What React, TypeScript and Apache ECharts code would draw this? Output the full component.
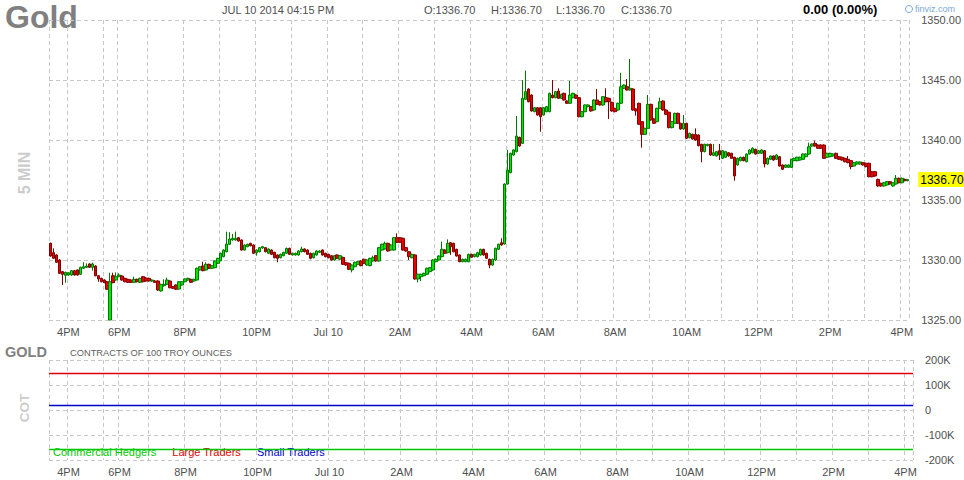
import React, { useEffect, useRef } from "react";
import * as echarts from "echarts";

// ---- DATA ----
// Session layout of 5-minute bars (start time, number of bars)
const sessionStarts = ["15:30", "18:10", "19:00"];
const sessionCounts = [23, 10, 255];

// candles: [open, close, low, high]
const candles: number[][] = [
  [1331.39, 1330.33, 1330.28, 1331.45], [1330.61, 1330.14, 1330.08, 1330.97], [1330.42, 1329.81, 1329.75, 1330.47], [1330.00, 1328.89, 1328.83, 1330.06],
  [1329.03, 1328.81, 1327.92, 1329.08], [1328.72, 1328.97, 1328.11, 1329.03], [1328.75, 1328.94, 1328.69, 1329.00], [1328.75, 1329.11, 1328.69, 1329.17],
  [1329.11, 1328.75, 1328.69, 1329.17], [1329.17, 1328.75, 1328.69, 1329.22], [1328.81, 1329.39, 1328.75, 1329.44], [1329.31, 1329.44, 1329.25, 1329.81],
  [1329.39, 1329.50, 1329.33, 1329.72], [1329.67, 1329.39, 1329.33, 1329.72], [1329.39, 1329.67, 1329.11, 1329.78], [1329.50, 1328.69, 1328.64, 1329.56],
  [1328.69, 1328.42, 1328.19, 1328.75], [1328.47, 1328.19, 1328.14, 1328.53], [1328.33, 1328.11, 1328.06, 1328.39], [1328.19, 1327.56, 1327.50, 1328.25],
  [1325.00, 1328.19, 1325.00, 1328.94], [1328.69, 1328.11, 1328.06, 1328.94], [1328.33, 1328.61, 1328.28, 1328.97], [1328.61, 1328.75, 1328.56, 1328.89],
  [1328.67, 1328.33, 1328.28, 1328.72], [1328.47, 1328.19, 1328.14, 1328.53], [1328.39, 1328.14, 1328.08, 1328.44], [1328.33, 1328.14, 1328.08, 1328.39],
  [1328.14, 1328.39, 1328.08, 1328.61], [1328.39, 1328.19, 1328.14, 1328.44], [1328.14, 1328.47, 1328.08, 1328.53], [1328.61, 1328.19, 1328.14, 1328.67],
  [1328.50, 1328.25, 1328.19, 1328.56], [1328.47, 1328.25, 1328.19, 1328.53], [1328.25, 1328.33, 1328.19, 1328.39], [1328.25, 1328.14, 1328.08, 1328.31],
  [1328.25, 1327.50, 1327.44, 1328.31], [1327.42, 1327.97, 1327.36, 1328.03], [1327.86, 1327.97, 1327.78, 1328.39], [1327.97, 1328.33, 1327.92, 1328.53],
  [1328.25, 1327.69, 1327.64, 1328.31], [1327.78, 1327.64, 1327.58, 1327.83], [1327.92, 1327.56, 1327.50, 1327.97], [1327.58, 1328.19, 1327.53, 1328.25],
  [1327.92, 1328.19, 1327.86, 1328.25], [1328.19, 1328.42, 1328.14, 1328.47], [1328.33, 1328.47, 1328.28, 1328.53], [1328.39, 1328.14, 1328.08, 1328.44],
  [1328.25, 1328.39, 1328.19, 1328.44], [1328.33, 1329.31, 1328.28, 1329.36], [1329.17, 1329.44, 1329.11, 1329.50], [1329.50, 1329.11, 1329.06, 1329.86],
  [1329.17, 1329.64, 1329.11, 1329.81], [1329.64, 1329.31, 1329.25, 1329.69], [1329.31, 1329.53, 1329.25, 1329.58], [1329.36, 1329.92, 1329.31, 1329.97],
  [1329.72, 1330.14, 1329.67, 1330.19], [1329.94, 1330.56, 1329.89, 1330.61], [1330.28, 1330.83, 1330.22, 1330.89], [1330.69, 1331.33, 1330.64, 1332.36],
  [1331.31, 1331.75, 1331.25, 1332.31], [1331.67, 1331.81, 1331.61, 1332.17], [1331.67, 1331.81, 1331.61, 1332.36], [1331.86, 1331.58, 1331.53, 1331.92],
  [1331.67, 1330.83, 1330.78, 1331.72], [1330.83, 1331.25, 1330.78, 1331.31], [1331.11, 1331.31, 1331.06, 1331.36], [1331.39, 1331.19, 1331.14, 1331.44],
  [1331.25, 1330.56, 1330.50, 1331.31], [1330.61, 1330.83, 1330.36, 1330.89], [1330.69, 1331.03, 1330.64, 1331.08], [1331.00, 1331.11, 1330.94, 1331.17],
  [1331.03, 1330.69, 1330.64, 1331.08], [1330.56, 1330.92, 1330.50, 1330.97], [1330.83, 1330.47, 1330.42, 1330.89], [1330.64, 1330.19, 1330.14, 1330.69],
  [1330.42, 1330.14, 1329.81, 1330.47], [1330.19, 1330.47, 1330.14, 1330.53], [1330.36, 1330.64, 1330.31, 1330.69], [1330.56, 1330.97, 1330.50, 1331.03],
  [1330.97, 1330.47, 1330.42, 1331.03], [1330.42, 1330.56, 1330.36, 1330.61], [1330.42, 1330.56, 1330.36, 1330.61], [1330.42, 1330.75, 1330.36, 1330.81],
  [1330.69, 1330.92, 1330.64, 1331.11], [1330.92, 1330.69, 1330.64, 1330.97], [1330.83, 1330.47, 1330.42, 1330.89], [1330.56, 1330.14, 1330.06, 1330.61],
  [1330.19, 1330.56, 1330.14, 1330.61], [1330.42, 1330.75, 1330.36, 1330.81], [1330.64, 1330.75, 1330.58, 1330.81], [1330.83, 1330.42, 1330.36, 1330.89],
  [1330.56, 1330.28, 1330.22, 1330.61], [1330.47, 1330.19, 1330.14, 1330.53], [1330.36, 1330.00, 1329.94, 1330.42], [1330.00, 1330.36, 1329.94, 1330.42],
  [1330.42, 1330.14, 1330.08, 1330.47], [1330.06, 1330.36, 1330.00, 1330.42], [1330.22, 1329.64, 1329.58, 1330.28], [1329.78, 1329.58, 1329.53, 1329.83],
  [1329.72, 1329.22, 1329.17, 1329.78], [1329.17, 1329.58, 1328.97, 1329.64], [1329.44, 1329.81, 1329.39, 1329.86], [1329.64, 1329.86, 1329.58, 1329.92],
  [1329.92, 1329.53, 1329.47, 1329.97], [1330.06, 1329.72, 1329.67, 1330.11], [1329.58, 1330.00, 1329.53, 1330.06], [1329.53, 1330.14, 1329.47, 1330.19],
  [1329.92, 1330.19, 1329.86, 1330.36], [1330.36, 1329.92, 1329.86, 1330.42], [1329.92, 1331.03, 1329.86, 1331.08], [1330.83, 1331.31, 1330.78, 1331.36],
  [1330.92, 1331.39, 1330.86, 1331.53], [1331.39, 1330.75, 1330.69, 1331.44], [1330.83, 1331.25, 1330.78, 1331.31], [1330.83, 1331.86, 1330.78, 1331.92],
  [1331.86, 1331.47, 1331.42, 1332.22], [1331.86, 1331.47, 1331.42, 1331.92], [1331.81, 1330.83, 1330.78, 1331.86], [1331.03, 1330.75, 1330.69, 1331.08],
  [1330.69, 1330.28, 1330.00, 1330.75], [1330.19, 1330.47, 1330.14, 1330.53], [1330.42, 1328.42, 1328.36, 1330.47], [1328.42, 1328.81, 1328.14, 1328.86],
  [1328.61, 1328.81, 1328.25, 1328.86], [1328.69, 1328.89, 1328.64, 1328.94], [1328.81, 1329.31, 1328.75, 1329.36], [1329.03, 1329.36, 1328.97, 1329.42],
  [1329.17, 1330.00, 1329.11, 1330.06], [1329.86, 1330.06, 1329.81, 1330.11], [1330.00, 1330.33, 1329.94, 1330.39], [1330.28, 1330.89, 1330.22, 1331.53],
  [1330.83, 1330.56, 1330.50, 1330.89], [1330.61, 1331.39, 1330.56, 1331.72], [1331.44, 1331.11, 1330.42, 1331.50], [1331.39, 1330.69, 1330.64, 1331.44],
  [1330.89, 1330.33, 1330.28, 1330.94], [1330.42, 1329.86, 1329.81, 1330.47], [1329.86, 1330.06, 1329.81, 1330.11], [1329.86, 1330.06, 1329.81, 1330.11],
  [1329.86, 1330.47, 1329.81, 1330.53], [1330.47, 1330.22, 1330.17, 1330.53], [1330.28, 1330.47, 1330.22, 1330.53], [1330.28, 1330.61, 1330.22, 1330.69],
  [1330.42, 1330.89, 1330.36, 1330.94], [1330.89, 1330.42, 1330.36, 1330.94], [1330.56, 1330.14, 1330.08, 1330.61], [1330.06, 1329.58, 1329.31, 1330.11],
  [1329.58, 1330.06, 1329.53, 1330.11], [1330.00, 1330.97, 1329.94, 1331.03], [1330.89, 1331.31, 1330.83, 1331.36], [1331.44, 1331.25, 1331.19, 1331.81],
  [1331.33, 1336.33, 1331.28, 1336.39], [1336.33, 1337.50, 1336.28, 1339.17], [1337.28, 1338.89, 1337.22, 1338.94], [1338.75, 1339.17, 1338.69, 1339.22],
  [1339.03, 1340.33, 1338.97, 1342.00], [1340.22, 1339.50, 1339.44, 1340.28], [1339.72, 1343.47, 1339.67, 1345.00], [1343.39, 1344.03, 1343.33, 1345.78],
  [1344.25, 1343.19, 1343.14, 1344.31], [1343.75, 1342.42, 1342.36, 1343.81], [1342.36, 1342.69, 1342.31, 1342.75], [1342.69, 1342.08, 1342.03, 1342.75],
  [1342.69, 1341.94, 1340.69, 1342.75], [1342.08, 1342.69, 1342.03, 1342.75], [1342.36, 1342.78, 1342.31, 1342.83], [1342.36, 1343.89, 1342.31, 1343.94],
  [1343.75, 1343.53, 1343.47, 1345.00], [1343.53, 1344.03, 1343.47, 1344.08], [1344.08, 1343.47, 1343.42, 1344.31], [1343.47, 1343.81, 1343.42, 1343.86],
  [1343.89, 1343.33, 1343.28, 1343.94], [1343.25, 1343.06, 1343.00, 1343.31], [1343.06, 1343.75, 1343.00, 1344.92], [1343.53, 1343.89, 1343.47, 1343.94],
  [1343.75, 1343.47, 1343.42, 1343.81], [1343.53, 1341.94, 1341.89, 1343.58], [1341.94, 1342.36, 1341.89, 1342.42], [1342.36, 1342.92, 1342.31, 1342.97],
  [1342.78, 1342.92, 1342.72, 1342.97], [1342.78, 1342.42, 1342.36, 1342.83], [1342.50, 1343.33, 1342.44, 1343.39], [1343.33, 1342.97, 1342.92, 1344.25],
  [1343.19, 1342.92, 1342.86, 1343.25], [1342.92, 1343.61, 1342.86, 1343.67], [1343.53, 1343.19, 1343.14, 1344.31], [1343.47, 1343.19, 1341.75, 1343.53],
  [1343.14, 1342.42, 1342.36, 1343.19], [1342.64, 1342.36, 1342.31, 1342.69], [1342.50, 1343.06, 1342.44, 1343.11], [1343.06, 1344.44, 1343.00, 1345.60],
  [1344.31, 1344.58, 1344.25, 1344.64], [1344.44, 1344.17, 1344.11, 1345.08], [1344.17, 1344.31, 1344.11, 1346.75], [1344.25, 1342.50, 1342.44, 1344.31],
  [1342.58, 1342.42, 1342.03, 1342.64], [1343.06, 1341.31, 1341.25, 1343.11], [1341.53, 1340.47, 1339.36, 1341.58], [1340.47, 1340.97, 1340.42, 1341.03],
  [1340.97, 1342.97, 1340.92, 1343.75], [1342.97, 1341.67, 1341.61, 1343.03], [1341.75, 1341.39, 1341.33, 1341.81], [1341.53, 1342.64, 1341.47, 1342.69],
  [1342.64, 1343.19, 1342.58, 1343.53], [1343.25, 1342.50, 1342.44, 1343.31], [1342.50, 1342.14, 1342.08, 1342.56], [1342.31, 1341.03, 1340.97, 1342.36],
  [1341.03, 1341.53, 1340.97, 1341.58], [1341.39, 1342.22, 1341.33, 1342.28], [1342.22, 1341.39, 1341.33, 1342.28], [1341.39, 1340.92, 1340.86, 1341.44],
  [1340.92, 1341.39, 1340.86, 1342.08], [1341.39, 1340.14, 1340.08, 1341.44], [1340.19, 1340.56, 1340.14, 1340.61], [1340.47, 1340.08, 1340.03, 1340.53],
  [1340.47, 1340.00, 1339.94, 1340.97], [1340.42, 1339.53, 1339.47, 1340.47], [1339.64, 1339.03, 1338.14, 1339.69], [1339.03, 1339.64, 1338.97, 1339.69],
  [1339.53, 1339.64, 1339.47, 1339.69], [1339.64, 1338.75, 1338.69, 1339.69], [1338.72, 1338.94, 1338.67, 1339.67], [1338.67, 1339.03, 1338.61, 1339.08],
  [1339.11, 1338.75, 1338.33, 1339.67], [1338.47, 1339.11, 1338.42, 1339.17], [1338.56, 1339.03, 1338.50, 1339.08], [1338.94, 1338.67, 1338.61, 1339.00],
  [1338.89, 1338.47, 1338.42, 1338.94], [1338.56, 1337.00, 1336.61, 1338.61], [1337.92, 1338.47, 1337.86, 1338.53], [1338.28, 1338.56, 1338.22, 1338.61],
  [1338.56, 1338.28, 1338.22, 1338.61], [1338.19, 1338.83, 1338.14, 1338.89], [1338.83, 1339.17, 1338.78, 1339.22], [1338.94, 1339.31, 1338.89, 1339.39],
  [1339.22, 1338.83, 1338.78, 1339.28], [1338.89, 1339.11, 1338.83, 1339.17], [1338.89, 1339.17, 1338.83, 1339.22], [1339.11, 1338.00, 1337.72, 1339.17],
  [1338.00, 1338.47, 1337.94, 1338.53], [1338.39, 1338.67, 1338.33, 1338.72], [1338.67, 1338.33, 1338.28, 1338.72], [1338.39, 1338.75, 1338.33, 1338.81],
  [1338.61, 1337.83, 1337.78, 1338.67], [1337.92, 1337.56, 1337.50, 1337.97], [1337.72, 1337.92, 1337.67, 1337.97], [1337.72, 1337.92, 1337.67, 1337.97],
  [1337.72, 1338.39, 1337.67, 1338.44], [1338.28, 1338.47, 1338.22, 1338.53], [1338.28, 1338.56, 1338.22, 1338.61], [1338.33, 1338.56, 1338.28, 1338.61],
  [1338.39, 1338.83, 1338.33, 1338.89], [1338.61, 1338.83, 1338.56, 1338.89], [1338.83, 1339.44, 1338.78, 1339.78], [1339.50, 1339.67, 1339.44, 1339.72],
  [1339.72, 1339.50, 1339.44, 1339.94], [1339.58, 1339.31, 1339.25, 1339.64], [1339.58, 1339.31, 1339.25, 1339.64], [1339.58, 1338.47, 1338.42, 1339.64],
  [1338.56, 1338.89, 1338.50, 1338.94], [1338.61, 1338.89, 1338.56, 1338.94], [1338.67, 1338.83, 1338.61, 1338.89], [1338.89, 1338.47, 1338.42, 1338.94],
  [1338.61, 1338.39, 1338.33, 1338.67], [1338.56, 1338.33, 1338.28, 1338.61], [1338.47, 1338.19, 1338.14, 1338.53], [1338.39, 1338.11, 1338.06, 1338.67],
  [1338.28, 1337.78, 1337.56, 1338.33], [1337.83, 1338.11, 1337.78, 1338.17], [1338.00, 1338.17, 1337.94, 1338.22], [1338.00, 1338.17, 1337.94, 1338.22],
  [1338.11, 1337.92, 1337.86, 1338.17], [1338.06, 1337.78, 1337.72, 1338.11], [1338.06, 1336.94, 1336.89, 1338.11], [1337.36, 1336.94, 1336.89, 1337.42],
  [1337.36, 1337.00, 1336.94, 1337.42], [1336.72, 1336.17, 1336.11, 1336.78], [1336.39, 1336.17, 1336.11, 1336.44], [1336.17, 1336.44, 1336.11, 1336.50],
  [1336.25, 1336.53, 1336.19, 1336.58], [1336.53, 1336.33, 1336.28, 1336.58], [1336.17, 1336.44, 1336.11, 1336.50], [1336.33, 1336.81, 1336.28, 1337.08],
  [1336.81, 1336.44, 1336.39, 1336.86], [1336.44, 1336.81, 1336.39, 1336.86], [1336.72, 1336.61, 1336.56, 1336.78], [1336.61, 1336.70, 1336.56, 1336.75],
];

const priceTicks = [1325, 1350, 5]; // min, max, interval
const cotNames = ["Commercial Hedgers", "Large Traders", "Small Traders"];
const cotValues = [-157000, 147000, 20000];
const cotColors = ["#00c800", "#dd0000", "#0000cc"];
const cotTicks = [-200000, 200000, 100000];
const headerQuote = ["O:1336.70", "H:1336.70", "L:1336.70", "C:1336.70"];

// ---- helpers ----
function buildCategories(): string[] {
  const out: string[] = [];
  sessionStarts.forEach((s, k) => {
    let [h, m] = s.split(":").map(Number);
    for (let i = 0; i < sessionCounts[k]; i++) {
      out.push(String(h).padStart(2, "0") + ":" + String(m).padStart(2, "0"));
      m += 5;
      if (m >= 60) { m -= 60; h = (h + 1) % 24; }
    }
  });
  return out;
}
const categories = buildCategories();
const hourOf = (v: string) => Number(v.split(":")[0]);
const isHourStart = (i: number) => i === 0 || hourOf(categories[i]) !== hourOf(categories[i - 1]);
const isLabel = (i: number) => i > 0 && isHourStart(i) && hourOf(categories[i]) % 2 === 0;
const fmtHour = (v: string) => {
  const h = hourOf(v);
  if (h === 0) return "Jul 10";
  return (h % 12 === 0 ? 12 : h % 12) + (h < 12 ? "AM" : "PM");
};

const FONT = "'Liberation Sans', Arial, sans-serif";
const GRID_COLOR = "#c8c8c8";
const lastClose = candles[candles.length - 1][1];

function makeXAxis(gridIndex: number) {
  return {
    type: "category",
    gridIndex,
    data: categories,
    boundaryGap: true,
    axisLine: { show: false },
    axisTick: { show: false },
    axisLabel: {
      interval: (i: number) => isLabel(i),
      formatter: (v: string) => fmtHour(v),
      color: "#505050",
      fontSize: 11,
      fontFamily: FONT,
      margin: 6,
    },
    splitLine: {
      show: true,
      interval: (i: number) => isHourStart(i),
      lineStyle: { color: GRID_COLOR, type: [4, 3], width: 1 },
    },
  };
}

export default function App() {
  const ref = useRef<HTMLDivElement>(null);
  useEffect(() => {
    if (!ref.current) return;
    const chart = echarts.init(ref.current, undefined, { renderer: "svg" });
    const option: any = {
      animation: false,
      backgroundColor: "#ffffff",
      textStyle: { fontFamily: FONT },
      grid: [
        { left: 49, right: 51, top: 20, height: 300 },
        { left: 49, right: 51, top: 360, height: 100 },
      ],
      xAxis: [makeXAxis(0), makeXAxis(1)],
      yAxis: [
        {
          type: "value",
          gridIndex: 0,
          position: "right",
          min: priceTicks[0],
          max: priceTicks[1],
          interval: priceTicks[2],
          axisLine: { show: false },
          axisTick: { show: false },
          axisLabel: {
            formatter: (v: number) => v.toFixed(2),
            color: "#505050",
            fontSize: 11,
            fontFamily: FONT,
            margin: 12,
          },
          splitLine: { show: true, lineStyle: { color: GRID_COLOR, type: [4, 3], width: 1 } },
        },
        {
          type: "value",
          gridIndex: 1,
          position: "right",
          min: cotTicks[0],
          max: cotTicks[1],
          interval: cotTicks[2],
          axisLine: { show: false },
          axisTick: { show: false },
          axisLabel: {
            formatter: (v: number) => (v === 0 ? "0" : v / 1000 + "K"),
            color: "#505050",
            fontSize: 11,
            fontFamily: FONT,
            margin: 12,
          },
          splitLine: { show: true, lineStyle: { color: GRID_COLOR, type: [4, 3], width: 1 } },
        },
      ],
      legend: {
        left: 48,
        top: 446,
        itemWidth: 0,
        itemHeight: 0,
        itemGap: 11,
        icon: "rect",
        selectedMode: false,
        padding: 0,
        textStyle: { fontSize: 11, fontFamily: FONT },
        data: cotNames.map((n, i) => ({ name: n, textStyle: { color: cotColors[i] } })),
      },
      series: [
        {
          type: "candlestick",
          name: "Gold",
          xAxisIndex: 0,
          yAxisIndex: 0,
          data: candles,
          barWidth: 3,
          itemStyle: {
            color: "#00e600",
            color0: "#e60000",
            borderColor: "#007800",
            borderColor0: "#800000",
            borderWidth: 1,
          },
          markLine: {
            silent: true,
            symbol: ["none", "none"],
            lineStyle: { color: "rgba(0,0,0,0)", width: 0 },
            data: [{ yAxis: lastClose }],
            label: {
              show: true,
              position: "end",
              formatter: () => lastClose.toFixed(2),
              backgroundColor: "#ffff00",
              color: "#000000",
              fontSize: 12,
              fontFamily: FONT,
              padding: [2, 2, 1, 2],
              distance: 9,
            },
          },
        },
        ...cotNames.map((n, i) => ({
          type: "line",
          name: n,
          xAxisIndex: 1,
          yAxisIndex: 1,
          data: [],
          color: cotColors[i],
          markLine: {
            silent: true,
            symbol: ["none", "none"],
            label: { show: false },
            lineStyle: { color: cotColors[i], width: 1.3, type: "solid" },
            data: [{ yAxis: cotValues[i] }],
          },
        })),
      ],
      graphic: [
        { type: "text", left: 5, top: 1, style: { text: "Gold", fontSize: 32, fontWeight: "bold", fontFamily: FONT, fill: "#808080" } },
        { type: "text", left: 222, top: 4, style: { text: "JUL 10 2014 04:15 PM", fontSize: 11, fontFamily: FONT, fill: "#505050" } },
        ...headerQuote.map((t, i) => ({
          type: "text", left: [424, 491, 556, 621][i], top: 4,
          style: { text: t, fontSize: 11, fontFamily: FONT, fill: "#505050" },
        })),
        { type: "text", left: 803, top: 3, style: { text: "0.00 (0.00%)", fontSize: 13, fontWeight: "bold", fontFamily: FONT, fill: "#000000" } },
        { type: "circle", shape: { cx: 909, cy: 9, r: 3.5 }, style: { fill: "none", stroke: "#7aaad8", lineWidth: 1 } },
        { type: "text", left: 915, top: 4, style: { text: "finviz.com", fontSize: 9, fontFamily: FONT, fill: "#7aaad8" } },
        { type: "text", x: 24, y: 173, rotation: Math.PI / 2, style: { text: "5 MIN", fontSize: 16, fontWeight: "bold", fontFamily: FONT, fill: "#cccccc", align: "center", verticalAlign: "middle" } },
        { type: "text", left: 5, top: 344, style: { text: "GOLD", fontSize: 14.5, fontWeight: "bold", fontFamily: FONT, fill: "#808080" } },
        { type: "text", left: 70, top: 348, style: { text: "CONTRACTS OF 100 TROY OUNCES", fontSize: 9.3, fontFamily: FONT, fill: "#606060" } },
        { type: "text", x: 24, y: 408, rotation: Math.PI / 2, style: { text: "COT", fontSize: 13.5, fontWeight: "bold", fontFamily: FONT, fill: "#cccccc", align: "center", verticalAlign: "middle" } },
      ],
    };
    chart.setOption(option);
    return () => chart.dispose();
  }, []);
  return <div ref={ref} style={{ width: 964, height: 480, position: "absolute", left: 0, top: 0 }} />;
}
